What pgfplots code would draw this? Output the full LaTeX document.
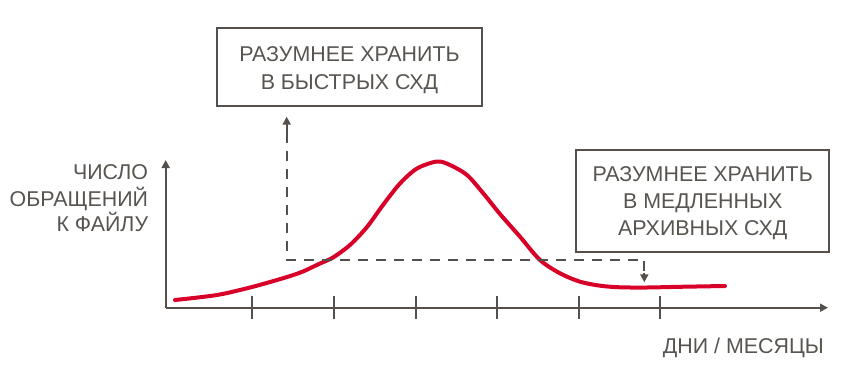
\documentclass[border=0pt]{standalone}
\usepackage{pgfplots}
\pgfplotsset{compat=1.18}
\usepackage{fontspec}
\setmainfont{Liberation Sans}
\usetikzlibrary{arrows.meta}
\definecolor{axgray}{RGB}{85,80,75}
\definecolor{txtgray}{RGB}{88,84,80}
\definecolor{curvered}{RGB}{216,0,40}
\begin{document}
\begin{tikzpicture}
\begin{axis}[
  x=1pt, y=1pt,
  scale only axis,
  xmin=165.7, xmax=828,
  ymin=62.3, ymax=210,
  axis lines=left,
  axis line style={axgray, line width=2.2pt, -{Triangle[width=8pt,length=8pt]}},
  xtick={252,334,416,497,579,660},
  xticklabels={},
  ytick=\empty,
  major tick length=23pt,
  tick align=center,
  tick style={axgray, line width=2pt},
  clip=false,
  every axis plot/.append style={line join=round},
]
\path (axis cs:0,0) rectangle (axis cs:844,370);
% curve (y = 370 - pixel row)
\addplot[curvered, line width=4pt, smooth, tension=0.5, line cap=round] coordinates {
(175,70) (217,75) (250,82.5) (277,90) (300,97.3) (320,106.5) (333,112.5)
(350,125) (367,143) (383,165) (400,186.5) (417,201.5) (437,208.5) (450,205)
(467,195) (483,177) (500,156) (520,133.3) (540,110) (560,96.7) (580,88.3)
(600,84.3) (620,82.7) (647,82.5) (680,83.2) (725,84)
};
% dashed guide
\draw[axgray, line width=2.2pt, dash pattern=on 10pt off 8pt]
  (axis cs:286.7,237) -- (axis cs:286.7,110.3) -- (axis cs:644.3,110.3) -- (axis cs:644.3,95);
\draw[axgray, line width=2.2pt, -{Triangle[width=8pt,length=8pt]}]
  (axis cs:286.7,237) -- (axis cs:286.7,253.3);
\draw[axgray, line width=2.2pt, -{Triangle[width=8pt,length=8pt]}]
  (axis cs:644.3,97) -- (axis cs:644.3,87.7);
% boxes
\draw[axgray, line width=2pt] (axis cs:216.7,342.3) rectangle (axis cs:482.3,264);
\draw[axgray, line width=2pt] (axis cs:576,220) rectangle (axis cs:829.3,118.3);
\tikzset{lbl/.style={text=txtgray, font=\fontsize{21.4}{27}\selectfont, inner sep=0pt}}
\node[lbl, anchor=base] at (axis cs:349.5,308.3) {РАЗУМНЕЕ ХРАНИТЬ};
\node[lbl, anchor=base] at (axis cs:349.5,280) {В БЫСТРЫХ СХД};
\node[lbl, anchor=base] at (axis cs:702.7,188.3) {РАЗУМНЕЕ ХРАНИТЬ};
\node[lbl, anchor=base] at (axis cs:702.7,161.7) {В МЕДЛЕННЫХ};
\node[lbl, anchor=base] at (axis cs:702.7,135) {АРХИВНЫХ СХД};
\node[lbl, anchor=base east] at (axis cs:148.3,190) {ЧИСЛО};
\node[lbl, anchor=base east] at (axis cs:148.3,163.3) {ОБРАЩЕНИЙ};
\node[lbl, anchor=base east] at (axis cs:148.3,138.3) {К ФАЙЛУ};
\node[lbl, anchor=base east] at (axis cs:824,16.7) {ДНИ / МЕСЯЦЫ};
\end{axis}
\end{tikzpicture}
\end{document}
